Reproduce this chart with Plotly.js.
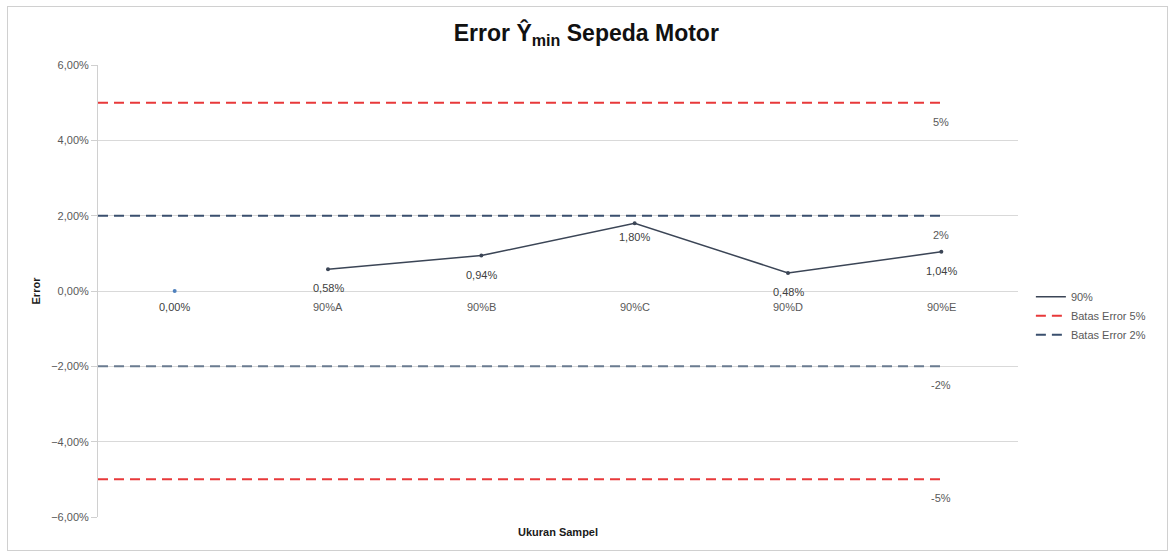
<!DOCTYPE html>
<html><head><meta charset="utf-8">
<script src="https://cdn.plot.ly/plotly-3.0.1.min.js"></script>
<style>
body{margin:0;background:#fff;}
#wrap{position:relative;width:1175px;height:554px;}
#chart{width:1175px;height:554px;}
#frame{position:absolute;left:7px;top:6px;width:1159px;height:543px;border:1px solid #d0d0d0;pointer-events:none;}
</style></head>
<body><div id="wrap"><div id="chart"></div><div id="frame"></div></div>
<script>
const categories = ['', '90%A', '90%B', '90%C', '90%D', '90%E'];
const firstValue = [0.0];
const series90 = [null, 0.0058, 0.0094, 0.0180, 0.0048, 0.0104];
const limit5 = 0.05;
const limit2 = 0.02;
const limitLabels5 = ['5%', '-5%'];
const limitLabels2 = ['2%', '-2%'];
const yTicks = [-0.06, -0.04, -0.02, 0, 0.02, 0.04, 0.06];

const idx = categories.map((c, i) => i);
const last = idx[idx.length - 1];
const xStart = -0.5;
const FAM = 'Liberation Sans, Arial, sans-serif';
const font = {family: FAM, size: 11, color: '#595959'};
const dataFont = {family: FAM, size: 11, color: '#404040'};
const pct = v => (v * 100).toFixed(2).replace('.', ',') + '%';

function limitTrace(v, color, name, show) {
  return {
    x: [xStart, last], y: [v, v], mode: 'lines', type: 'scatter',
    line: {color: color, width: 2, dash: '10px,6px'},
    name: name, showlegend: show, legendgroup: name, hoverinfo: 'skip'
  };
}

const traces = [
  {x: idx, y: series90, mode: 'lines+markers', type: 'scatter', name: '90%', showlegend: false,
   line: {color: '#3b4556', width: 1.5}, marker: {color: '#3b4556', size: 4}},
  {x: [null], y: [null], mode: 'lines', type: 'scatter', name: '90%', line: {color: '#3b4556', width: 1.5}},
  limitTrace(limit5, '#e8393a', 'Batas Error 5%', true),
  limitTrace(-limit5, '#e8393a', 'Batas Error 5%', false),
  limitTrace(limit2, '#3a4f6e', 'Batas Error 2%', true),
  limitTrace(-limit2, '#6a7b90', 'Batas Error 2%', false),
  {x: [idx[0]], y: firstValue, mode: 'markers', type: 'scatter', showlegend: false,
   marker: {color: '#4f81bd', size: 4}}
];

const annotations = [];
categories.forEach((c, i) => {
  if (c) annotations.push({x: i, y: 0, text: c, showarrow: false, yshift: -16, font: font});
});
series90.forEach((v, i) => {
  if (v !== null) annotations.push({x: i, y: v, text: pct(v), showarrow: false, yshift: i === 3 ? -14 : -19, font: dataFont});
});
annotations.push({x: idx[0], y: firstValue[0], text: pct(firstValue[0]), showarrow: false, yshift: -16, font: dataFont});
[[limit5, limitLabels5[0]], [-limit5, limitLabels5[1]], [limit2, limitLabels2[0]], [-limit2, limitLabels2[1]]]
  .forEach(([v, t]) => annotations.push({x: last, y: v, text: t, showarrow: false, yshift: -19, font: font}));

const layout = {
  width: 1175, height: 554,
  margin: {l: 98, r: 157, t: 65, b: 37},
  paper_bgcolor: '#fff', plot_bgcolor: '#fff',
  separators: ',.',
  title: {text: '<b>Error Ŷ<sub>min</sub> Sepeda Motor</b>', x: 0.499, xanchor: 'center', y: 0.94, yanchor: 'middle',
          font: {family: FAM, size: 23, color: '#111'}},
  xaxis: {range: [-0.5, 5.5], showticklabels: false, showgrid: false, zeroline: false,
          showline: false, ticks: '', fixedrange: true,
          title: {text: '<b>Ukuran Sampel</b>', standoff: 11, font: {family: FAM, size: 11, color: '#1a1a1a'}}},
  yaxis: {range: [-0.06, 0.06], tickvals: yTicks, tickformat: '.2%', tickfont: font,
          showgrid: true, gridcolor: '#d9d9d9', gridwidth: 1, zeroline: false,
          showline: true, linecolor: '#d0d0d0', ticks: 'outside', ticklen: 6, tickcolor: '#d0d0d0',
          title: {text: '<b>Error</b>', standoff: 8, font: {family: FAM, size: 11, color: '#1a1a1a'}}},
  annotations: annotations,
  legend: {x: 1.014, y: 0.445, yanchor: 'middle', xanchor: 'left', font: font, bgcolor: 'rgba(0,0,0,0)',
           itemwidth: 30, traceorder: 'normal'},
  showlegend: true
};

Plotly.newPlot('chart', traces, layout, {displayModeBar: false, staticPlot: true});
</script></body></html>
